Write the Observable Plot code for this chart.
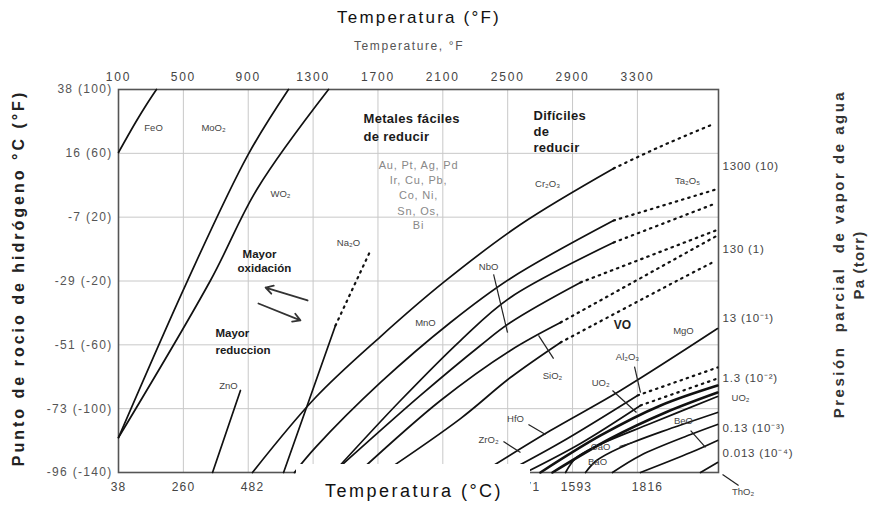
<!DOCTYPE html>
<html>
<head>
<meta charset="utf-8">
<script src="https://cdn.jsdelivr.net/npm/d3@7"></script>
<script src="https://cdn.jsdelivr.net/npm/@observablehq/plot@0.6"></script>
<style>
  html, body { margin: 0; padding: 0; background: #fff; }
  #chart { width: 892px; height: 506px; }
</style>
</head>
<body>
<div id="chart"></div>
<script>
// Axis ticks (x in °F, y as hydrogen dew point in °F)
const topTicksF = [100, 500, 900, 1300, 1700, 2100, 2500, 2900, 3300];
const bottomTickF = [100, 501, 926, 2604, 2924, 3362];
const bottomTickC = ["38", "260", "482", "1371", "1593", "1816"];
const dewTicksF = [100, 60, 20, -20, -60, -100, -140];
const dewTickLabels = ["38 (100)", "16 (60)", "-7 (20)", "-29 (-20)", "-51 (-60)", "-73 (-100)", "-96 (-140)"];
const pressureTicksF = [52, 0, -43.5, -81, -112.4, -128.1];
const pressureLabels = ["1300 (10)", "130 (1)", "13 (10⁻¹)", "1.3 (10⁻²)", "0.13 (10⁻³)", "0.013 (10⁻⁴)"];

// Metal / oxide equilibrium curves: [temperature °F, dew point °F]
const feO = [[100, 60.5], [205, 79.3], [273, 90.6], [334, 100]];
const moO2 = [[100, -118.1], [526, -19.7], [896, 58.6], [1148, 100]];
const wO2 = [[100, -118.1], [667, -19.7], [957, 38.0], [1395, 100]];
const znO = [[680, -140], [852, -88.6]];
const na2OSolid = [[1118, -140], [1438, -47.9]];
const na2ODotted = [[1438, -47.9], [1654, -0.9]];

const upper1Solid = [[926, -140], [1315, -93.0], [1716, -54.8], [2104, -20.9], [2579, 15.4], [3153, 50.5]];
const upper1Dotted = [[3153, 50.5], [3443, 64.3], [3763, 78.1]];
const upper2Solid = [[1185, -140], [1315, -124.3], [1716, -83.6], [2147, -46.0], [2517, -18.4], [3153, 17.9]];
const upper2Dotted = [[3153, 17.9], [3782, 37.3]];
const upper3Solid = [[1426, -140], [1839, -94.9], [2209, -57.3], [2517, -30.3], [3153, 4.1]];
const upper3Dotted = [[3153, 4.1], [3782, 28.6]];
const upper4Solid = [[1426, -140], [1962, -91.7], [2332, -60.4], [2517, -46.0], [2949, -20.9]];
const upper4Dotted = [[2949, -20.9], [3782, 11.6]];
const upper5Solid = [[1580, -140], [2086, -94.9], [2517, -63.5], [2826, -46.0]];
const upper5Dotted = [[2826, -46.0], [3782, 7.9]];
const upper6Solid = [[1734, -140], [2209, -106.2], [2517, -80.5], [2826, -58.5]];
const upper6Dotted = [[2826, -58.5], [3547, -19.7], [3763, -8.4]];

const lower1 = [[2382, -137.5], [2764, -113.7], [3196, -88.6], [3794, -49.8]];
const lower2Solid = [[2487, -140], [2826, -121.2], [3301, -91.7]];
const lower2Dotted = [[3301, -91.7], [3794, -74.2]];
const lower3Solid = [[2610, -140], [2949, -121.8], [3319, -98.0]];
const lower3Dotted = [[3319, -98.0], [3794, -81.1]];
const lower4 = [[2702, -140], [3073, -116.8], [3443, -98.0], [3794, -85.5]];
const lower5 = [[2776, -140], [3134, -118.7], [3473, -102.4], [3794, -89.9]];
const lower6 = [[2857, -140], [2918, -131.2], [3042, -123.7], [3381, -109.3], [3794, -92.4]];
const lower7 = [[2980, -140], [3048, -132.5], [3196, -124.3], [3504, -112.4], [3794, -102.4]];
const lower8 = [[3146, -140], [3319, -129.3], [3628, -116.2], [3794, -109.9]];
const lower9 = [[3319, -140], [3628, -127.5], [3794, -119.9]];
const lower10 = [[3689, -140], [3794, -133.7]];

const solidCurves = [feO, moO2, wO2, znO, na2OSolid, upper1Solid, upper2Solid, upper3Solid, upper4Solid,
  upper5Solid, upper6Solid, lower1, lower2Solid, lower3Solid, lower6, lower7, lower8, lower9, lower10];
const heavyCurves = [lower4, lower5];
const dottedCurves = [na2ODotted, upper1Dotted, upper2Dotted, upper3Dotted, upper4Dotted, upper5Dotted,
  upper6Dotted, lower2Dotted, lower3Dotted];

// Oxide labels
const oxideLabels = [
  { t: "FeO", F: 316, D: 76.2 }, { t: "MoO₂", F: 686, D: 75.6 }, { t: "WO₂", F: 1099, D: 34.8 },
  { t: "ZnO", F: 778, D: -85.5 }, { t: "Na₂O", F: 1518, D: 4.1 }, { t: "Cr₂O₃", F: 2746, D: 41.1 },
  { t: "Ta₂O₅", F: 3609, D: 43.0 }, { t: "NbO", F: 2382, D: -10.9 }, { t: "MnO", F: 1993, D: -46.0 },
  { t: "MgO", F: 3584, D: -51.0 }, { t: "SiO₂", F: 2776, D: -79.2 }, { t: "Al₂O₃", F: 3239, D: -67.9 },
  { t: "UO₂", F: 3073, D: -84.2 }, { t: "HfO", F: 2548, D: -106.2 }, { t: "ZrO₂", F: 2382, D: -119.9 },
  { t: "BeO", F: 3584, D: -108.0 }, { t: "CaO", F: 3073, D: -124.3 }, { t: "BaO", F: 3054, D: -133.1 },
  { t: "ThO₂", F: 3951, D: -152.5 }, { t: "UO₂", F: 3936, D: -93.0 }
];
const boldOxideLabels = [{ t: "VO", F: 3208, D: -47.9 }];

// Leader lines from labels to their curves
const leaders = [
  { F1: 2413, D1: -15.9, F2: 2499, D2: -52.3 },
  { F1: 2690, D1: -54.1, F2: 2783, D2: -68.6 },
  { F1: 3282, D1: -73.6, F2: 3319, D2: -89.9 },
  { F1: 3146, D1: -88.6, F2: 3294, D2: -102.4 },
  { F1: 2628, D1: -109.9, F2: 2733, D2: -116.2 },
  { F1: 2474, D1: -120.6, F2: 2579, D2: -127.5 },
  { F1: 3190, D1: -123.7, F2: 3270, D2: -121.2 },
  { F1: 3628, D1: -113.7, F2: 3720, D2: -124.3 },
  { F1: 3825, D1: -141.2, F2: 3924, D2: -148.1 }
];

// Direction arrows
const arrows = [
  { F1: 1266, D1: -32.2, F2: 1007, D2: -24.1 },
  { F1: 963, D1: -34.1, F2: 1222, D2: -44.7 }
];

// Region notes
const regionHeads = [
  { t: "Metales fáciles", F: 1611, D: 81.8 }, { t: "de reducir", F: 1611, D: 70.5 },
  { t: "Difíciles", F: 2659, D: 83.7 }, { t: "de", F: 2659, D: 73.7 }, { t: "reducir", F: 2659, D: 63.7 }
];
const easyMetals = [
  { t: "Au, Pt, Ag, Pd", F: 1950, D: 52.4 }, { t: "Ir, Cu, Pb,", F: 1950, D: 43.0 },
  { t: "Co, Ni,", F: 1950, D: 33.6 }, { t: "Sn, Os,", F: 1950, D: 23.6 }, { t: "Bi", F: 1950, D: 14.8 }
];
const trendNotes = [
  { t: "Mayor", F: 865, D: -3.4 }, { t: "oxidación", F: 834, D: -12.2 },
  { t: "Mayor", F: 698, D: -52.9 }, { t: "reduccion", F: 698, D: -63.5 }
];

const toRows = (curves) => curves.flatMap((c, i) => c.map(([F, D]) => ({ F, D, id: i })));

const font = "'Liberation Sans', Arial, Helvetica, sans-serif";

const chart = Plot.plot({
  width: 892,
  height: 506,
  marginLeft: 118,
  marginRight: 174,
  marginTop: 89,
  marginBottom: 34,
  x: { domain: [100, 3800], axis: null },
  y: { domain: [-140, 100], axis: null },
  style: { fontFamily: font, background: "#fff", overflow: "visible" },
  marks: [
    Plot.ruleX(topTicksF.slice(1), { stroke: "#c8c8c8", strokeWidth: 1 }),
    Plot.ruleY(dewTicksF.slice(1, -1), { stroke: "#c8c8c8", strokeWidth: 1 }),
    Plot.frame({ stroke: "#555", strokeWidth: 1.6 }),
    Plot.line(toRows(solidCurves), { x: "F", y: "D", z: "id", curve: "catmull-rom", stroke: "#111", strokeWidth: 1.7 }),
    Plot.line(toRows(heavyCurves), { x: "F", y: "D", z: "id", curve: "catmull-rom", stroke: "#111", strokeWidth: 2.6 }),
    Plot.line(toRows(dottedCurves), { x: "F", y: "D", z: "id", curve: "catmull-rom", stroke: "#111", strokeWidth: 2.2, strokeDasharray: "1.5,5", strokeLinecap: "round" }),
    Plot.link(leaders, { x1: "F1", y1: "D1", x2: "F2", y2: "D2", stroke: "#222", strokeWidth: 1.2 }),
    Plot.arrow(arrows, { x1: "F1", y1: "D1", x2: "F2", y2: "D2", stroke: "#333", strokeWidth: 1.8, headLength: 7 }),
    // text groups, in order: 0..8
    Plot.text(oxideLabels, { x: "F", y: "D", text: "t", fontSize: 9.5, fill: "#444" }),
    Plot.text(boldOxideLabels, { x: "F", y: "D", text: "t", fontSize: 12, fontWeight: "bold", fill: "#222" }),
    Plot.text(regionHeads, { x: "F", y: "D", text: "t", textAnchor: "start", fontSize: 13, fontWeight: "bold", fill: "#1a1a1a" }),
    Plot.text(easyMetals, { x: "F", y: "D", text: "t", fontSize: 11, fill: "#888" }),
    Plot.text(trendNotes, { x: "F", y: "D", text: "t", textAnchor: "start", fontSize: 11.5, fontWeight: "bold", fill: "#1a1a1a" }),
    Plot.text(topTicksF, { x: (d) => d, text: (d) => String(d), frameAnchor: "top", dy: -17, fontSize: 12, fill: "#444" }),
    Plot.text(bottomTickF, { x: (d) => d, text: (d, i) => bottomTickC[i], frameAnchor: "bottom", dy: 18, fontSize: 12, fill: "#444" }),
    Plot.text(dewTicksF, { y: (d) => d, text: (d, i) => dewTickLabels[i], frameAnchor: "left", textAnchor: "end", dx: -6, fontSize: 12, fill: "#555" }),
    Plot.text(pressureTicksF, { y: (d) => d, text: (d, i) => pressureLabels[i], frameAnchor: "right", textAnchor: "start", dx: 4, fontSize: 11.5, fill: "#444" })
  ]
});

document.getElementById("chart").appendChild(chart);
const svg = d3.select(chart);

// Letter spacing for the wide, scanned-looking label sets
const spacing = [0, 0, 0.3, 0.8, 0, 1.8, 1.2, 1.3, 0.8];
svg.selectAll('g[aria-label="text"]').each(function (_, i) {
  if (spacing[i]) d3.select(this).attr("letter-spacing", spacing[i]);
});

// Blank strip behind the bottom axis title
svg.append("rect").attr("x", 296).attr("y", 464).attr("width", 234).attr("height", 42).attr("fill", "#fff");

function title(txt, x, y, size, opts = {}) {
  const t = svg.append("text")
    .attr("x", x).attr("y", y)
    .attr("text-anchor", "middle")
    .attr("dominant-baseline", "central")
    .attr("font-family", font)
    .attr("font-size", size)
    .attr("fill", opts.fill || "#111")
    .attr("font-weight", opts.weight || "normal")
    .attr("letter-spacing", opts.ls || 0)
    .text(txt);
  if (opts.rotate) t.attr("transform", `rotate(${opts.rotate},${x},${y})`);
  return t;
}
title("Temperatura (°F)", 419, 17, 17, { ls: 2.2 });
title("Temperature, °F", 409, 46, 12, { fill: "#555", ls: 1.6 });
title("Temperatura (°C)", 414, 491, 18, { ls: 2.5 });
title("Punto de rocio de hidrógeno °C (°F)", 18, 278, 16, { weight: "bold", ls: 3.0, rotate: -90, fill: "#222" });
title("Presión  parcial  de vapor de agua", 838, 254, 15, { weight: "bold", ls: 2.5, rotate: -90, fill: "#333" });
title("Pa (torr)", 858, 265, 15, { weight: "bold", ls: 1.2, rotate: -90, fill: "#333" });
</script>
</body>
</html>
